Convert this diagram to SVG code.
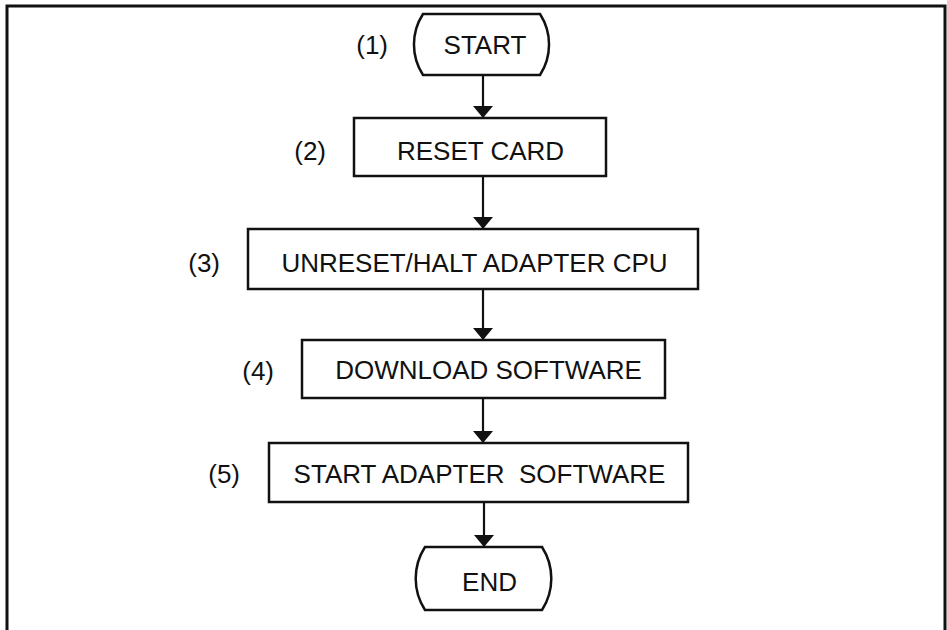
<svg xmlns="http://www.w3.org/2000/svg" width="947" height="630" viewBox="0 0 947 630">
<defs>
<style>
.t{font-family:"Liberation Sans",Arial,Helvetica,sans-serif;font-size:26px;fill:#111}
.m{text-anchor:middle}
.e{text-anchor:end}
.box{fill:#fff;stroke:#111;stroke-width:2.5}
.cn{stroke:#111;stroke-width:2.2;fill:none}
</style>
<marker id="ah" viewBox="0 0 12 20" refX="12" refY="10" markerWidth="12" markerHeight="20" markerUnits="userSpaceOnUse" orient="auto"><path d="M0,0 L12,10 L0,20 Z" fill="#111"/></marker>
</defs>
<rect width="947" height="630" fill="#fff"/>
<path d="M7,630 V6 H945 V630" fill="none" stroke="#111" stroke-width="3"/>

<g id="connectors">
<path class="cn" d="M483,75 V118" marker-end="url(#ah)"/>
<path class="cn" d="M483,176 V229" marker-end="url(#ah)"/>
<path class="cn" d="M483,289 V340" marker-end="url(#ah)"/>
<path class="cn" d="M483,398 V443" marker-end="url(#ah)"/>
<path class="cn" d="M484,502 V547" marker-end="url(#ah)"/>
</g>

<g id="n1">
<path class="box" d="M423,14 H540 A56,56 0 0 1 540,75 H423 A56,56 0 0 1 423,14 Z"/>
<text class="t m" x="485" y="54">START</text>
<text class="t e" x="388" y="54">(1)</text>
</g>

<g id="n2">
<rect class="box" x="354" y="118" width="252" height="58"/>
<text class="t m" x="480.5" y="160">RESET CARD</text>
<text class="t e" x="326" y="160">(2)</text>
</g>

<g id="n3">
<rect class="box" x="248" y="229" width="450" height="60"/>
<text class="t m" x="474.5" y="272">UNRESET/HALT ADAPTER CPU</text>
<text class="t e" x="220" y="272">(3)</text>
</g>

<g id="n4">
<rect class="box" x="302" y="340" width="363" height="58"/>
<text class="t m" x="488.5" y="379">DOWNLOAD SOFTWARE</text>
<text class="t e" x="274" y="380">(4)</text>
</g>

<g id="n5">
<rect class="box" x="269" y="443" width="419" height="59"/>
<text class="t m" x="479.5" y="483" xml:space="preserve">START ADAPTER  SOFTWARE</text>
<text class="t e" x="240" y="483">(5)</text>
</g>

<g id="n6">
<path class="box" d="M425,547 H542 A58,58 0 0 1 542,610 H425 A58,58 0 0 1 425,547 Z"/>
<text class="t m" x="489.5" y="591">END</text>
</g>
</svg>
